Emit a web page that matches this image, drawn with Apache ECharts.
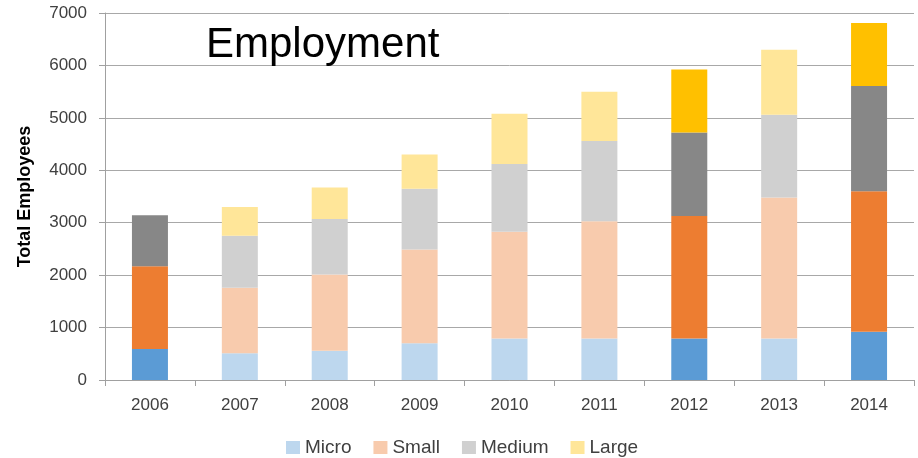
<!DOCTYPE html>
<html>
<head>
<meta charset="utf-8">
<script src="https://cdn.jsdelivr.net/npm/echarts@6/dist/echarts.min.js"></script>
<style>html,body{margin:0;padding:0;background:#fff}#c{width:918px;height:458px}</style>
</head>
<body>
<div id="c"></div>
<script>
const years = ['2006','2007','2008','2009','2010','2011','2012','2013','2014'];
const micro  = [590, 510, 560, 700, 790, 790, 790, 790, 920];
const small  = [1580, 1250, 1450, 1790, 2040, 2240, 2340, 2690, 2680];
const medium = [970, 990, 1060, 1160, 1290, 1530, 1590, 1580, 2010];
const large  = [0, 550, 600, 650, 960, 940, 1200, 1240, 1200];
const highlighted = ['2006', '2012', '2014'];
const seriesNames = ['Micro', 'Small', 'Medium', 'Large'];

const paleColors = ['#BDD7EE', '#F8CBAD', '#D0D0D0', '#FFE699'];
const strongColors = ['#5B9BD5', '#ED7D31', '#878787', '#FFC000'];
const allData = [micro, small, medium, large];

const fontFam = '"Liberation Sans", Arial, sans-serif';

const series = allData.map((arr, si) => ({
  name: seriesNames[si],
  type: 'bar',
  stack: 'total',
  barWidth: 36,
  color: paleColors[si],
  itemStyle: { color: paleColors[si] },
  data: arr.map((v, i) => ({
    value: v,
    itemStyle: { color: highlighted.includes(years[i]) ? strongColors[si] : paleColors[si] }
  }))
}));

const chart = echarts.init(document.getElementById('c'), null, { renderer: 'canvas' });
chart.setOption({
  animation: false,
  backgroundColor: '#fff',
  title: {
    text: 'Employment',
    left: 201, top: 19,
    textStyle: { fontFamily: fontFam, fontSize: 42, fontWeight: 'normal', color: '#000' }
  },
  legend: {
    top: 433, left: 281,
    itemWidth: 14, itemHeight: 13, itemGap: 22,
    icon: 'rect',
    textStyle: { fontFamily: fontFam, fontSize: 19, color: '#404040' },
    data: seriesNames
  },
  grid: { left: 105, right: 4, top: 13, bottom: 78 },
  xAxis: {
    type: 'category',
    data: years,
    axisLine: { lineStyle: { color: '#A0A0A0', width: 1 } },
    axisTick: { show: true, length: 6, lineStyle: { color: '#A0A0A0' } },
    axisLabel: { fontFamily: fontFam, fontSize: 17, color: '#404040', margin: 17 }
  },
  yAxis: {
    type: 'value',
    min: 0, max: 7000, interval: 1000,
    name: 'Total Employees',
    nameLocation: 'middle',
    nameGap: 71,
    nameTextStyle: { fontFamily: fontFam, fontSize: 18, fontWeight: 'bold', color: '#000' },
    axisLine: { show: true, lineStyle: { color: '#A0A0A0' } },
    axisTick: { show: true, length: 6, lineStyle: { color: '#A0A0A0' } },
    splitLine: { lineStyle: { color: '#A8A8A8', width: 1 } },
    axisLabel: { fontFamily: fontFam, fontSize: 17, color: '#404040', margin: 18, formatter: v => String(v) }
  },
  series: series
});
</script>
</body>
</html>
